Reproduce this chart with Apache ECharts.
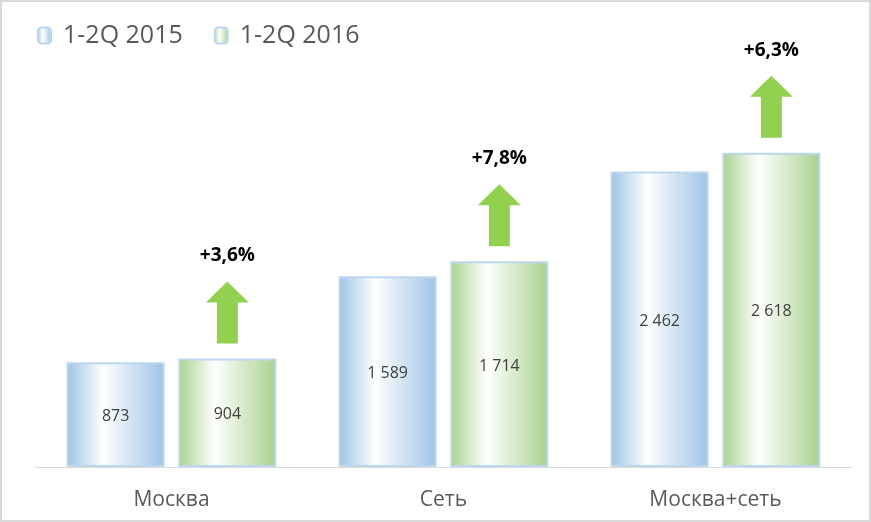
<!DOCTYPE html>
<html><head><meta charset="utf-8">
<script src="https://cdn.jsdelivr.net/npm/echarts@6/dist/echarts.min.js"></script>
<style>html,body{margin:0;padding:0;background:#fff}#c{width:871px;height:522px}</style>
</head><body><div id="c"></div>
<script>
const categories = ['Москва', 'Сеть', 'Москва+сеть'];
const seriesNames = ['1-2Q 2015', '1-2Q 2016'];
const v2015 = [873, 1589, 2462];
const v2016 = [904, 1714, 2618];
const growth = ['+3,6%', '+7,8%', '+6,3%'];

const fmt = v => String(v).replace(/\B(?=(\d{3})+(?!\d))/g, ' ');
const grad = (edge, mid) => new echarts.graphic.LinearGradient(0, 0, 1, 0, [
  {offset: 0, color: edge}, {offset: 0.37, color: mid}, {offset: 1, color: edge}
]);
const FONT = '"Open Sans", sans-serif';
const arrow = 'path://M21.5,0 L43,21 L32,21 L32,62 L11,62 L11,21 L0,21 Z';

const chart = echarts.init(document.getElementById('c'), null, {renderer: 'canvas'});
chart.setOption({
  animation: false,
  textStyle: {fontFamily: FONT},
  graphic: [{type: 'rect', shape: {x: 1, y: 1, width: 869, height: 520},
    style: {fill: 'none', stroke: '#d9d9d9', lineWidth: 2}, silent: true}],
  legend: {
    left: 32, top: 18, itemWidth: 13, itemHeight: 16, itemGap: 31,
    textStyle: {fontSize: 25, color: '#595959', fontFamily: FONT, padding: [0, 0, 0, 7]},
    data: seriesNames
  },
  grid: {left: 35.5, right: 19.5, top: 47, bottom: 55},
  xAxis: {
    type: 'category', data: categories,
    axisLine: {lineStyle: {color: '#d9d9d9', width: 1}},
    axisTick: {show: false},
    axisLabel: {fontSize: 21, color: '#595959', margin: 23, fontFamily: FONT}
  },
  yAxis: {type: 'value', min: 0, max: 3500, show: false, splitLine: {show: false}},
  series: [
    {
      name: seriesNames[0], type: 'bar', data: v2015, barWidth: 98, barGap: '14%',
      itemStyle: {color: grad('#9dc3e6', '#ffffff'), borderColor: '#bdd7ee', borderWidth: 2},
      label: {show: true, position: 'inside', fontSize: 16, color: '#404040',
        fontFamily: FONT, offset: [0, 2], formatter: p => fmt(p.value)}
    },
    {
      name: seriesNames[1], type: 'bar', data: v2016, barWidth: 98,
      itemStyle: {color: grad('#a9d18e', '#ffffff'), borderColor: '#bdd7ee', borderWidth: 2},
      label: {show: true, position: 'inside', fontSize: 16, color: '#404040',
        fontFamily: FONT, offset: [0, 2], formatter: p => fmt(p.value)},
      markPoint: {
        symbol: arrow, symbolSize: [43, 62], symbolOffset: [0, -46],
        itemStyle: {color: '#92d050'},
        label: {show: true, position: 'top', distance: 16, fontSize: 19, fontWeight: 'bold',
          color: '#000', fontFamily: FONT, formatter: p => p.name},
        data: v2016.map((v, i) => ({name: growth[i], coord: [categories[i], v]}))
      }
    }
  ]
});
</script></body></html>
